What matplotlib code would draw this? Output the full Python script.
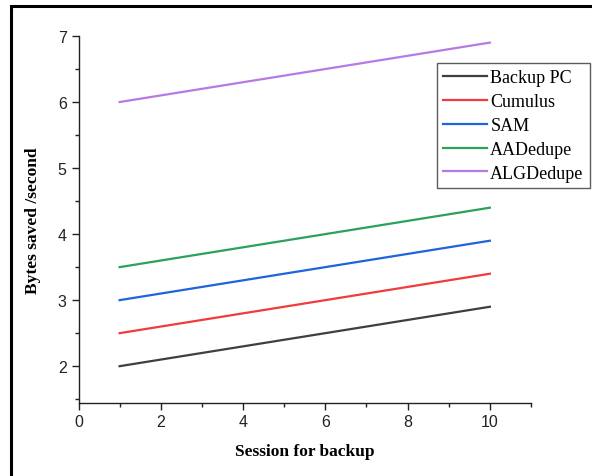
import matplotlib
matplotlib.use("Agg")
import matplotlib.pyplot as plt
from matplotlib.patches import Rectangle
from matplotlib.ticker import MultipleLocator

sessions = [1, 10]
backup_pc = [2.0, 2.9]
cumulus = [2.5, 3.4]
sam = [3.0, 3.9]
aadedupe = [3.5, 4.4]
algdedupe = [6.0, 6.9]

series = [
    ("Backup PC", backup_pc, "#3f3f3f"),
    ("Cumulus", cumulus, "#f23b3b"),
    ("SAM", sam, "#1e64dc"),
    ("AADedupe", aadedupe, "#2ba15c"),
    ("ALGDedupe", algdedupe, "#b57ae6"),
]

fig = plt.figure(figsize=(5.92, 4.77), dpi=100)
fig.patches.append(Rectangle((11/592, -0.1), 1.2, 1 - 7/477 + 0.1, transform=fig.transFigure,
                             fill=False, edgecolor="black", linewidth=2.2, zorder=0))
ax = fig.add_axes([78.5/592, 1 - 403.5/477, (531 - 78.5)/592, (403.5 - 37)/477])

for name, vals, col in series:
    ax.plot(sessions, vals, color=col, linewidth=1.6, label=name)

ax.set_xlim(0, 11)
ax.set_ylim(1.45, 7)
ax.xaxis.set_major_locator(MultipleLocator(2))
ax.xaxis.set_minor_locator(MultipleLocator(1))
ax.yaxis.set_major_locator(MultipleLocator(1))
ax.yaxis.set_minor_locator(MultipleLocator(0.5))
ax.set_yticks([2, 3, 4, 5, 6, 7])
for s in ["top", "right"]:
    ax.spines[s].set_visible(False)
for s in ["left", "bottom"]:
    ax.spines[s].set_linewidth(1.0)
    ax.spines[s].set_color("#222222")
ax.tick_params(which="major", direction="out", length=5, width=1, colors="#222222", labelsize=11.5)
ax.tick_params(which="minor", direction="out", length=3, width=1, colors="#222222")
for lab in ax.get_xticklabels() + ax.get_yticklabels():
    lab.set_fontfamily("Liberation Sans")

ax.set_xlabel("Session for backup", fontfamily="Liberation Serif", fontweight="bold", fontsize=12.5, labelpad=10)
ax.set_ylabel("Bytes saved /second", fontfamily="Liberation Serif", fontweight="bold", fontsize=12.5, labelpad=12)

leg = ax.legend(loc="upper left", bbox_to_anchor=(437/592, 1 - 64/477), bbox_transform=fig.transFigure,
                prop={"family": "Liberation Serif", "size": 13}, frameon=True, fancybox=False,
                edgecolor="#333333", handlelength=2.4, handletextpad=0.2, labelspacing=0.38,
                borderpad=0.35, borderaxespad=0)
leg.get_frame().set_linewidth(1.0)
leg.set_clip_on(False)

fig.savefig("out.png", dpi=100)
